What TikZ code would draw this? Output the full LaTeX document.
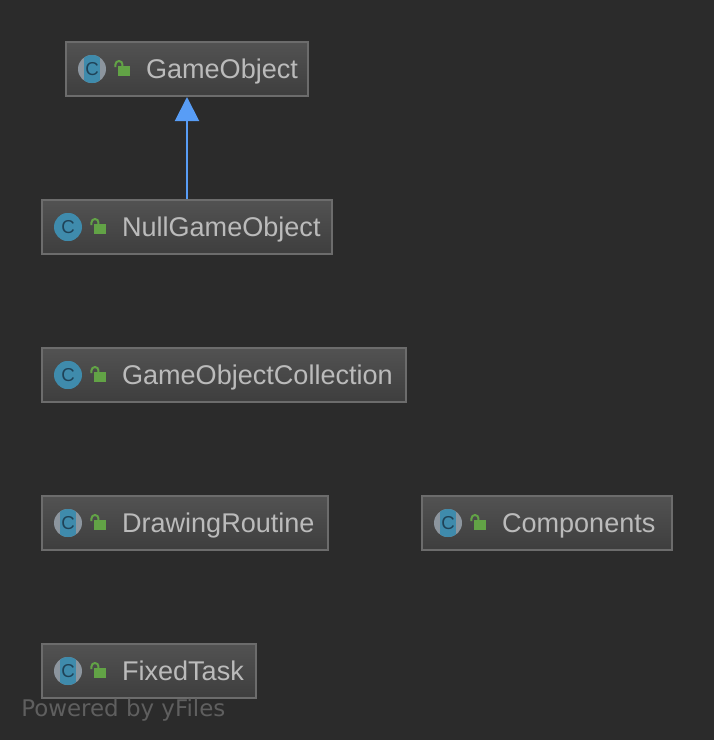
\documentclass[tikz,border=0pt]{standalone}
\usepackage{fontspec}
\setmainfont{Liberation Sans}
\newfontfamily\wmfont{DejaVu Sans}
\usetikzlibrary{arrows.meta}
\definecolor{IdeaBg}{HTML}{2B2B2B}
\definecolor{IdeaEdge}{HTML}{6C6C6C}
\definecolor{IdeaTop}{HTML}{525252}
\definecolor{IdeaBottom}{HTML}{3E3E3E}
\definecolor{IdeaText}{HTML}{BBBBBB}
\definecolor{IdeaBlue}{HTML}{589DF6}
\definecolor{IconBlue}{HTML}{3F8BAC}
\definecolor{IconGray}{HTML}{8C959E}
\definecolor{IconInk}{HTML}{1F4257}
\definecolor{LockGreen}{HTML}{62A346}
\tikzset{
    classbox/.style={draw=IdeaEdge, line width=1.5pt, top color=IdeaTop, bottom color=IdeaBottom,
        text=IdeaText, font=\fontsize{20.3pt}{24pt}\selectfont, inner xsep=0pt, inner ysep=0pt,
        minimum height=40.5pt, text width=#1, text height=15pt, text depth=1.5pt, align=left,
        outer sep=0.75pt, execute at begin node={\hspace*{60pt}}},
    icondisc/.style={circle, fill=#1, minimum size=21pt, inner sep=0pt, outer sep=0pt},
    iconletter/.style={inner sep=0pt, text=IconInk, font=\fontsize{14pt}{14pt}\selectfont},
    lockbody/.style={fill=LockGreen, draw=none, inner sep=0pt, outer sep=0pt, minimum width=9pt, minimum height=7.5pt},
    inherit/.style={-{Triangle[length=18pt, width=18pt]}, IdeaBlue, line width=1.5pt}
}
\begin{document}
\begin{tikzpicture}[x=0.75pt, y=-0.75pt]
    \fill[IdeaBg] (0,0) rectangle (714,740);
    \useasboundingbox (0,0) rectangle (714,740);

    % Classes
    \node[classbox=181.5pt] (gameobject) at (187, 69) {GameObject};
    \node[classbox=217.5pt] (nullgameobject) at (187, 227) {NullGameObject};
    \node[classbox=273pt] (collection) at (224, 375) {GameObjectCollection};
    \node[classbox=214.5pt] (routine) at (185, 523) {DrawingRoutine};
    \node[classbox=187.5pt] (components) at (547, 523) {Components};
    \node[classbox=160.5pt] (fixedtask) at (149, 671) {FixedTask};

    % Icons
    \foreach \n/\s in {gameobject/IconGray, nullgameobject/IconBlue, collection/IconBlue,
                       routine/IconGray, components/IconGray, fixedtask/IconGray} {
        \node[icondisc=\s] (\n-icon) at ([xshift=20.25pt]\n.west) {};
        \begin{scope}
            \clip (\n-icon.center) circle (10.5pt);
            \draw[IconBlue, line width=12pt] ([yshift=11pt]\n-icon.center) -- ([yshift=-11pt]\n-icon.center);
        \end{scope}
        \node[iconletter] (\n-letter) at (\n-icon) {C};
        \node[lockbody] (\n-lock) at ([xshift=44.25pt, yshift=-1.5pt]\n.west) {};
        \draw[LockGreen, line width=1.5pt] ([xshift=-1.9pt, yshift=-0.75pt]\n-lock.north west)
            -- ++(0, -2.5) arc[start angle=180, end angle=360, radius=3.5] -- ++(0, 2);
    }

    % Inheritance
    \draw[inherit] (nullgameobject) -- (gameobject);

    % Watermark
    \node[font=\wmfont\fontsize{17.2pt}{20pt}\selectfont, text=IdeaEdge!80!IdeaBg, anchor=west, inner sep=0pt] (poweredby) at (21, 710) {Powered by yFiles};
\end{tikzpicture}
\end{document}
